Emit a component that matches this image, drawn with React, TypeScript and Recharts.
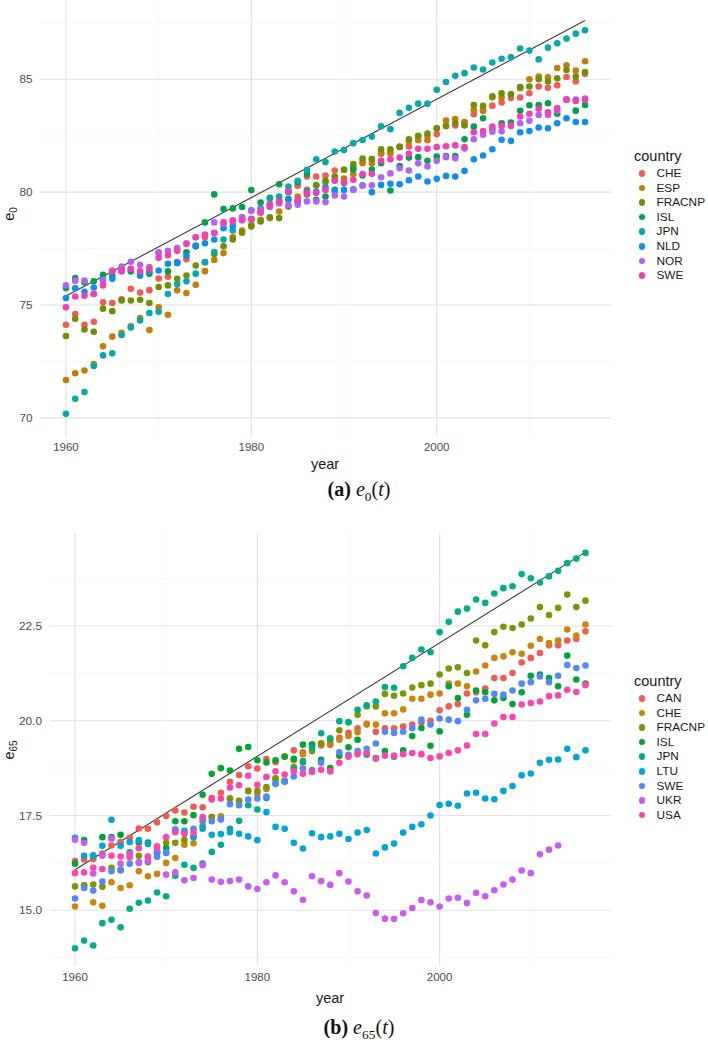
import React from "react";
import { ScatterChart, Scatter, XAxis, YAxis, CartesianGrid, ReferenceLine } from "recharts";

const years = Array.from({ length: 57 }, (_, i) => 1960 + i);
const yearTicks = [1960, 1980, 2000];
const yearMinor = [1970, 1990, 2010];

// (a) life expectancy at birth, females
const e0CHE = [74.13, 74.6, 74.13, 74.26, 75.12, 75.09, 75.25, 75.72, 75.55, 75.66, 76.17, 76.25, 76.9, 77.03, 77.6, 78.0, 78.19, 78.6, 78.69, 78.78, 78.82, 79.13, 79.48, 79.6, 80.07, 80.28, 80.69, 80.69, 80.74, 80.96, 80.99, 81.1, 81.33, 81.47, 81.7, 81.7, 82.02, 82.02, 82.46, 82.49, 82.57, 82.93, 82.95, 83.1, 83.45, 83.6, 83.83, 83.97, 84.17, 84.19, 84.38, 84.68, 84.62, 84.73, 85.1, 84.9, 85.24];
const e0ESP = [71.68, 71.98, 72.1, 72.39, 73.17, 73.6, 73.77, 74.06, 74.42, 73.89, 74.9, 74.57, 75.65, 75.53, 75.9, 76.5, 77.0, 77.3, 78.0, 78.3, 78.55, 78.78, 78.85, 79.14, 79.66, 79.8, 80.1, 80.3, 80.45, 80.55, 80.6, 80.8, 81.28, 81.28, 81.72, 81.75, 82.0, 82.24, 82.3, 82.3, 82.83, 83.17, 83.24, 83.08, 83.64, 83.61, 84.2, 84.19, 84.32, 84.6, 85.0, 85.12, 85.09, 85.5, 85.62, 85.38, 85.8];
const e0FRACNP = [73.63, 74.39, 73.92, 73.82, 74.84, 74.73, 75.2, 75.2, 75.23, 75.09, 75.8, 75.87, 76.16, 76.31, 76.75, 76.9, 77.26, 77.6, 77.9, 78.2, 78.48, 78.7, 78.89, 78.85, 79.36, 79.6, 79.9, 80.3, 80.5, 80.69, 80.99, 81.24, 81.49, 81.47, 81.9, 81.9, 82.0, 82.34, 82.5, 82.6, 82.83, 82.93, 83.06, 82.95, 83.86, 83.82, 84.25, 84.38, 84.34, 84.65, 84.68, 85.0, 84.9, 85.04, 85.41, 85.12, 85.32];
const e0ISL = [75.75, 76.19, 76.0, 76.05, 76.34, 76.3, 76.5, 76.49, 76.42, 76.39, 77.3, 76.49, 76.86, 77.34, 77.6, 78.66, 79.9, 79.25, 79.28, 79.34, 80.09, 79.54, 79.75, 80.35, 80.0, 80.43, 80.8, 79.66, 79.81, 80.1, 80.4, 81.0, 80.74, 81.0, 81.28, 80.07, 81.16, 81.53, 81.55, 81.39, 81.58, 81.6, 81.6, 82.34, 82.9, 83.27, 82.79, 83.05, 83.08, 83.6, 83.85, 83.86, 83.94, 83.47, 84.1, 83.61, 83.86];
const e0JPN = [70.18, 70.85, 71.15, 72.3, 72.77, 72.86, 73.67, 74.0, 74.32, 74.65, 74.7, 75.49, 75.93, 76.05, 76.39, 76.9, 77.35, 77.9, 78.3, 78.85, 78.8, 79.1, 79.73, 79.81, 80.25, 80.5, 80.99, 81.46, 81.33, 81.8, 81.87, 82.17, 82.31, 82.46, 82.92, 82.79, 83.51, 83.74, 83.92, 83.92, 84.53, 84.88, 85.15, 85.27, 85.52, 85.43, 85.74, 85.91, 85.97, 86.36, 86.27, 85.88, 86.4, 86.59, 86.8, 87.02, 87.17];
const e0NLD = [75.31, 75.74, 75.59, 75.78, 76.1, 76.16, 76.59, 76.59, 76.3, 76.5, 76.53, 76.83, 76.86, 77.18, 77.64, 77.74, 77.9, 78.4, 78.5, 78.85, 79.2, 79.3, 79.4, 79.6, 79.7, 79.59, 80.03, 80.03, 80.22, 80.06, 80.1, 80.13, 80.3, 80.0, 80.32, 80.37, 80.35, 80.53, 80.69, 80.47, 80.59, 80.72, 80.69, 80.94, 81.46, 81.62, 81.9, 82.32, 82.27, 82.65, 82.71, 82.86, 82.83, 83.05, 83.27, 83.11, 83.11];
const e0NOR = [75.87, 76.08, 76.08, 75.5, 76.12, 76.53, 76.71, 76.92, 76.78, 76.68, 77.34, 77.4, 77.52, 77.74, 78.0, 78.11, 78.66, 78.6, 78.7, 78.9, 79.17, 79.25, 79.34, 79.5, 79.43, 79.44, 79.59, 79.59, 79.56, 79.85, 79.81, 80.1, 80.28, 80.3, 80.66, 80.83, 81.06, 80.96, 81.28, 81.14, 81.39, 81.55, 81.5, 81.93, 82.34, 82.54, 82.68, 82.7, 82.93, 83.05, 83.16, 83.42, 83.42, 83.6, 84.11, 84.1, 84.15];
const e0SWE = [74.9, 75.38, 75.41, 75.49, 75.87, 76.49, 76.5, 76.6, 76.5, 76.6, 77.1, 77.2, 77.4, 77.7, 78.0, 78.11, 78.2, 78.67, 78.75, 78.75, 78.8, 79.1, 79.4, 79.6, 80.03, 79.66, 79.96, 79.96, 80.1, 80.5, 80.44, 80.55, 80.8, 80.81, 81.39, 81.46, 81.53, 81.7, 81.92, 81.92, 82.0, 82.03, 82.07, 82.0, 82.65, 82.71, 82.91, 82.93, 82.95, 83.35, 83.47, 83.69, 83.54, 83.72, 84.08, 84.04, 84.09];

const e0Countries = ["CHE", "ESP", "FRACNP", "ISL", "JPN", "NLD", "NOR", "SWE"];
const e0Colors = ["#f25a52", "#c47d0a", "#6f8f00", "#00a24c", "#00aaad", "#0d8ff2", "#b262f5", "#f23fb6"];
const e0Values = [e0CHE, e0ESP, e0FRACNP, e0ISL, e0JPN, e0NLD, e0NOR, e0SWE];
const e0Best = [{ year: 1960, value: 75.4 }, { year: 2016, value: 87.6 }];
const e0Ticks = [70, 75, 80, 85];
const e0Minor = [72.5, 77.5, 82.5, 87.5];

// (b) life expectancy at age 65, females
const e65CAN = [16.3, 16.34, 16.35, 16.5, 16.71, 16.8, 16.91, 17.16, 17.15, 17.32, 17.49, 17.63, 17.58, 17.73, 17.72, 17.96, 18.1, 18.39, 18.57, 18.8, 18.74, 18.99, 18.91, 19.06, 19.22, 19.17, 19.3, 19.35, 19.37, 19.55, 19.68, 19.8, 19.92, 19.71, 19.8, 19.8, 19.85, 19.9, 19.96, 20.0, 20.28, 20.38, 20.44, 20.72, 20.75, 20.85, 21.13, 21.13, 21.26, 21.54, 21.66, 21.79, 21.99, 21.99, 22.12, 22.16, 22.36];
const e65CHE = [15.1, 15.66, 15.21, 15.12, 15.74, 15.59, 15.66, 16.03, 15.9, 15.96, 16.25, 16.38, 16.73, 16.77, 17.42, 17.46, 17.48, 17.95, 17.89, 18.16, 18.08, 18.2, 18.49, 18.42, 18.96, 19.12, 19.37, 19.4, 19.4, 19.5, 19.6, 19.7, 19.9, 19.9, 20.2, 20.2, 20.3, 20.58, 20.58, 20.69, 20.72, 20.98, 20.98, 20.91, 21.3, 21.46, 21.66, 21.7, 21.81, 21.77, 21.98, 22.16, 22.05, 22.12, 22.41, 22.25, 22.54];
const e65FRACNP = [15.63, 15.65, 15.68, 15.62, 16.12, 16.05, 16.44, 16.44, 16.27, 16.54, 16.78, 16.78, 16.85, 16.95, 17.22, 17.46, 17.4, 17.95, 17.88, 18.14, 18.15, 18.25, 18.46, 18.4, 18.78, 18.9, 19.2, 19.4, 19.5, 19.75, 19.96, 20.16, 20.38, 20.38, 20.71, 20.66, 20.72, 20.88, 20.94, 20.98, 21.22, 21.38, 21.41, 21.26, 22.12, 21.99, 22.34, 22.48, 22.45, 22.54, 22.7, 23.0, 22.79, 22.98, 23.33, 23.0, 23.17];
const e65ISL = [16.23, 16.85, 16.44, 16.93, 16.93, 16.99, 16.53, 16.79, 16.79, 16.53, 16.64, 17.35, 17.35, 17.51, 18.05, 18.6, 18.75, 18.69, 19.26, 19.31, 18.96, 18.9, 18.96, 19.05, 19.0, 19.37, 19.37, 18.97, 18.75, 19.08, 19.3, 19.5, 19.11, 19.02, 19.2, 19.05, 19.22, 19.6, 19.81, 19.34, 19.72, 20.91, 20.6, 20.16, 20.8, 20.75, 20.54, 20.6, 20.44, 20.75, 21.19, 21.22, 21.13, 20.91, 21.72, 21.09, 20.98];
const e65JPN = [14.0, 14.2, 14.07, 14.66, 14.75, 14.55, 15.04, 15.2, 15.26, 15.47, 15.37, 15.91, 16.2, 16.12, 16.23, 16.54, 16.73, 17.15, 17.36, 17.77, 17.66, 17.96, 18.35, 18.4, 18.73, 18.94, 19.29, 19.67, 19.54, 19.99, 19.96, 20.29, 20.41, 20.51, 20.89, 20.87, 21.44, 21.66, 21.88, 21.81, 22.34, 22.61, 22.88, 22.96, 23.2, 23.11, 23.36, 23.5, 23.55, 23.87, 23.76, 23.65, 23.81, 23.96, 24.16, 24.28, 24.43];
const e65LTU = [16.91, 16.44, 16.45, 16.7, 17.39, 16.7, 16.8, 16.85, 16.75, 16.51, 16.51, 17.13, 17.1, 16.93, 17.15, 16.99, 17.01, 17.06, 17.02, 16.95, 16.85, 17.59, 17.2, 17.15, 16.78, 16.63, 17.03, 16.93, 16.95, 17.02, 16.88, 17.05, 17.12, 16.5, 16.66, 16.76, 17.05, 17.2, 17.27, 17.5, 17.78, 17.81, 17.76, 18.08, 18.1, 17.95, 17.93, 18.15, 18.28, 18.56, 18.61, 18.89, 18.97, 18.98, 19.26, 19.04, 19.22];
const e65SWE = [15.31, 15.59, 15.52, 15.76, 16.03, 16.07, 16.23, 16.27, 16.41, 16.41, 16.53, 17.13, 17.06, 17.15, 17.35, 17.35, 17.4, 17.8, 17.77, 17.92, 17.95, 18.0, 18.33, 18.4, 18.53, 18.74, 18.7, 18.89, 18.67, 19.17, 19.1, 19.2, 19.26, 19.4, 19.71, 19.68, 19.71, 19.8, 20.03, 19.9, 20.06, 20.03, 19.99, 20.29, 20.54, 20.58, 20.71, 20.69, 20.8, 20.98, 21.02, 21.17, 21.02, 21.19, 21.47, 21.39, 21.46];
const e65UKR = [16.86, 16.78, 15.97, 16.44, 16.89, 16.23, 16.5, 16.25, 16.3, 16.6, 15.94, 16.0, 15.79, 15.85, 16.19, 15.81, 15.75, 15.77, 15.81, 15.63, 15.56, 15.74, 15.92, 15.74, 15.5, 15.28, 15.9, 15.77, 15.67, 15.98, 15.76, 15.5, 15.39, 14.93, 14.78, 14.77, 14.92, 15.06, 15.27, 15.21, 15.1, 15.31, 15.33, 15.19, 15.46, 15.37, 15.53, 15.68, 15.81, 16.05, 15.98, 16.48, 16.6, 16.71];
const e65USA = [15.98, 16.0, 16.12, 16.09, 16.44, 16.42, 16.4, 16.64, 16.42, 16.69, 16.93, 17.06, 17.01, 17.05, 17.46, 17.92, 17.95, 18.24, 18.3, 18.55, 18.31, 18.52, 18.67, 18.58, 18.67, 18.6, 18.65, 18.71, 18.67, 18.89, 19.05, 19.12, 19.15, 19.0, 19.08, 19.08, 19.12, 19.15, 19.12, 19.02, 19.06, 19.15, 19.22, 19.35, 19.65, 19.65, 19.93, 20.1, 20.1, 20.43, 20.47, 20.51, 20.65, 20.67, 20.82, 20.76, 20.94];

const e65Countries = ["CAN", "CHE", "FRACNP", "ISL", "JPN", "LTU", "SWE", "UKR", "USA"];
const e65Colors = ["#f25a52", "#cc840a", "#7f9400", "#00a535", "#00ad8a", "#00a4dc", "#5287ff", "#c95af2", "#ff45ad"];
const e65Values = [e65CAN, e65CHE, e65FRACNP, e65ISL, e65JPN, e65LTU, e65SWE, e65UKR, e65USA];
const e65Best = [{ year: 1960, value: 16.07 }, { year: 2016, value: 24.45 }];
const e65Ticks = [15, 17.5, 20, 22.5];
const e65Minor = [13.75, 16.25, 18.75, 21.25, 23.75];

const SANS = "'Liberation Sans', Arial, Helvetica, sans-serif";
const SERIF = "'Liberation Serif', 'DejaVu Serif', serif";

function Panel({ countries, colors, values, best, yDomain, yTicks, yMinor, yWidth, plotHeight, fmt }: any) {
  const series = countries.map((c: string, k: number) => ({
    name: c,
    color: colors[k],
    data: values[k].map((v: number, i: number) => ({ year: years[i], value: v })),
  }));
  const xRight = 708 - 611;
  return (
    <ScatterChart width={708} height={plotHeight + 30} margin={{ top: 0, right: xRight, bottom: 0, left: 0 }}>
      <CartesianGrid stroke="#f1f1f1" strokeWidth={0.6} horizontalValues={yMinor} verticalValues={yearMinor} />
      <CartesianGrid stroke="#e2e2e2" strokeWidth={1.15} horizontalValues={yTicks} verticalValues={yearTicks} />
      <XAxis
        type="number"
        dataKey="year"
        domain={[1957.2, 2018.8]}
        ticks={yearTicks}
        axisLine={false}
        tickLine={false}
        tickSize={0}
        tickMargin={7}
        height={30}
        tick={{ fontSize: 11.5, fill: "#4d4d4d", fontFamily: SANS }}
      />
      <YAxis
        type="number"
        dataKey="value"
        domain={yDomain}
        ticks={yTicks}
        axisLine={false}
        tickLine={false}
        tickSize={0}
        tickMargin={7.5}
        width={yWidth}
        tickFormatter={fmt}
        tick={{ fontSize: 11.8, fill: "#4d4d4d", fontFamily: SANS }}
      />
      {series.map((s: any) => (
        <Scatter
          key={s.name}
          name={s.name}
          data={s.data}
          fill={s.color}
          isAnimationActive={false}
          shape={(p: any) => <circle cx={p.cx} cy={p.cy} r={3.3} fill={s.color} />}
        />
      ))}
      <ReferenceLine
        segment={best.map((b: any) => ({ x: b.year, y: b.value }))}
        stroke="#3a3a3a"
        strokeWidth={1.1}
      />
    </ScatterChart>
  );
}

function LegendBox({ countries, colors, top }: any) {
  return (
    <div style={{ position: "absolute", left: 634, top, fontFamily: SANS }}>
      <div style={{ fontSize: 14.5, color: "#1a1a1a", height: 20, lineHeight: "20px" }}>country</div>
      {countries.map((c: string, k: number) => (
        <div key={c} style={{ position: "relative", height: 14.6, lineHeight: "14.6px", fontSize: 11.8, color: "#1a1a1a" }}>
          <span style={{ position: "absolute", left: 4.5, top: 4, width: 6.6, height: 6.6, borderRadius: "50%", background: colors[k] }} />
          <span style={{ position: "absolute", left: 22.5 }}>{c}</span>
        </div>
      ))}
    </div>
  );
}

function Caption({ label, sub, top }: any) {
  return (
    <div style={{ position: "absolute", left: 0, width: 718, top, textAlign: "center", fontFamily: SERIF, fontSize: 20, color: "#111" }}>
      <b>({label})</b> <i>e</i>
      <sub style={{ fontSize: 13.5 }}>{sub}</sub>(<i>t</i>)
    </div>
  );
}

function YTitle({ sub, top }: any) {
  return (
    <div style={{ position: "absolute", left: 10, top, transform: "translate(-50%, -50%) rotate(-90deg)", fontFamily: SANS, fontSize: 14.5, color: "#1a1a1a", whiteSpace: "nowrap" }}>
      e<sub style={{ fontSize: 10 }}>{sub}</sub>
    </div>
  );
}

export default function App() {
  return (
    <div style={{ position: "absolute", left: 0, top: 0, width: 708, height: 1049, background: "#fff" }}>
      <div style={{ position: "absolute", left: 0, top: 0 }}>
        <Panel
          countries={e0Countries}
          colors={e0Colors}
          values={e0Values}
          best={e0Best}
          yDomain={[69.2, 88.51]}
          yTicks={e0Ticks}
          yMinor={e0Minor}
          yWidth={40}
          plotHeight={436}
          fmt={(v: number) => String(v)}
        />
      </div>
      <div style={{ position: "absolute", left: 275, width: 100, top: 456, textAlign: "center", fontFamily: SANS, fontSize: 14.5, color: "#1a1a1a" }}>year</div>
      <YTitle sub="0" top={214} />
      <LegendBox countries={e0Countries} colors={e0Colors} top={146} />
      <Caption label="a" sub="0" top={478} />

      <div style={{ position: "absolute", left: 0, top: 533 }}>
        <Panel
          countries={e65Countries}
          colors={e65Colors}
          values={e65Values}
          best={e65Best}
          yDomain={[13.53, 24.955]}
          yTicks={e65Ticks}
          yMinor={e65Minor}
          yWidth={49.5}
          plotHeight={433}
          fmt={(v: number) => v.toFixed(1)}
        />
      </div>
      <div style={{ position: "absolute", left: 280, width: 100, top: 990, textAlign: "center", fontFamily: SANS, fontSize: 14.5, color: "#1a1a1a" }}>year</div>
      <YTitle sub="65" top={750} />
      <LegendBox countries={e65Countries} colors={e65Colors} top={671} />
      <Caption label="b" sub="65" top={1016} />
    </div>
  );
}
